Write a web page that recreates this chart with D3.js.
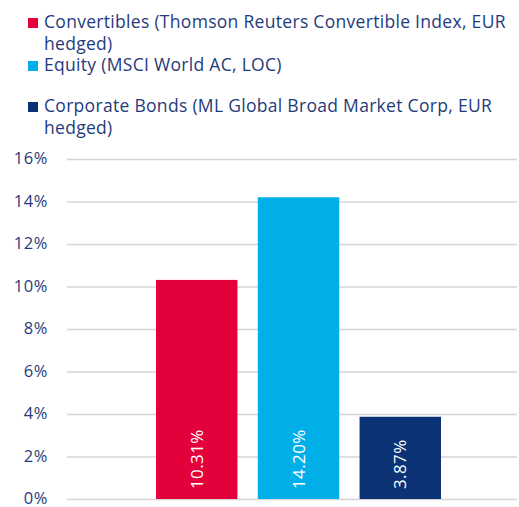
<!DOCTYPE html>
<html>
<head>
<meta charset="utf-8">
<script src="https://cdn.jsdelivr.net/npm/d3@7"></script>
<style>
  body { margin: 0; background: #fff; }
  text { font-family: 'Open Sans', Lato, sans-serif; }
</style>
</head>
<body>
<div id="chart"></div>
<script>
// data
var series = ['Convertibles', 'Equity', 'Corporate Bonds']
var legendLabels = [
  ['Convertibles (Thomson Reuters Convertible Index, EUR', 'hedged)'],
  ['Equity (MSCI World AC, LOC)'],
  ['Corporate Bonds (ML Global Broad Market Corp, EUR', 'hedged)']
]
var values = [10.31, 14.20, 3.87]
var colors = ['#e4003a', '#00aee8', '#0a3275']
var yTicks = [0, 2, 4, 6, 8, 10, 12, 14, 16]

var width = 519
var height = 507
var textColor = '#1f3b7c'

var svg = d3
  .select('#chart')
  .append('svg')
  .attr('width', width)
  .attr('height', height)

// scales
var y = d3.scaleLinear().domain([0, 16]).range([499, 159])
var x = d3
  .scaleBand()
  .domain(series)
  .range([156, 441])
  .paddingInner(0.2)
  .paddingOuter(0)

// gridlines
var grid = svg
  .append('g')
  .attr('class', 'grid')
  .call(
    d3
      .axisLeft(y)
      .tickValues(yTicks)
      .tickSize(-(517 - 67))
      .tickFormat('')
  )
  .attr('transform', 'translate(67,0)')
grid.select('.domain').remove()
grid.selectAll('.tick line').attr('stroke', '#d4d4d4').attr('stroke-width', 1.5)

// y axis labels
var yAxis = svg
  .append('g')
  .attr('transform', 'translate(48,0)')
  .call(
    d3
      .axisLeft(y)
      .tickValues(yTicks)
      .tickSize(0)
      .tickFormat(d => d + '%')
  )
yAxis.select('.domain').remove()
yAxis
  .selectAll('.tick text')
  .attr('x', 0)
  .attr('dy', '0.28em')
  .attr('fill', textColor)
  .attr('font-size', 16.5)
  .attr('letter-spacing', 0.6)

// bars
svg
  .selectAll('.bar')
  .data(values)
  .enter()
  .append('rect')
  .attr('class', 'bar')
  .attr('x', (d, i) => x(series[i]))
  .attr('width', x.bandwidth())
  .attr('y', d => y(d))
  .attr('height', d => y(0) - y(d))
  .attr('fill', (d, i) => colors[i])

// bar labels (rotated)
svg
  .selectAll('.bar-label')
  .data(values)
  .enter()
  .append('text')
  .attr('class', 'bar-label')
  .attr('transform', (d, i) => {
    var cx = x(series[i]) + x.bandwidth() / 2 + 6
    return 'translate(' + cx + ',' + (y(0) - 10) + ') rotate(-90)'
  })
  .attr('fill', '#fff')
  .attr('font-size', 17)
  .attr('letter-spacing', 0.4)
  .text(d => d.toFixed(2) + '%')

// legend, wrapped entries as one text with tspans
var legend = svg.append('g').attr('class', 'legend')
var legendBase = [28, 71, 112]
legendLabels.forEach((lines, i) => {
  var base = legendBase[i]
  legend
    .append('rect')
    .attr('x', 28)
    .attr('y', base - 10)
    .attr('width', 10)
    .attr('height', 10)
    .attr('fill', colors[i])
  var txt = legend
    .append('text')
    .attr('fill', textColor)
    .attr('font-size', 17.5)
    .attr('letter-spacing', 0.3)
  lines.forEach((t, j) => {
    var ts = txt
      .append('tspan')
      .attr('x', 44)
      .attr('y', base + j * 21.5)
      .text(t)
    var w = ts.node().getComputedTextLength()
    if (w > 472) ts.attr('textLength', 472).attr('lengthAdjust', 'spacing')
  })
})
</script>
</body>
</html>
